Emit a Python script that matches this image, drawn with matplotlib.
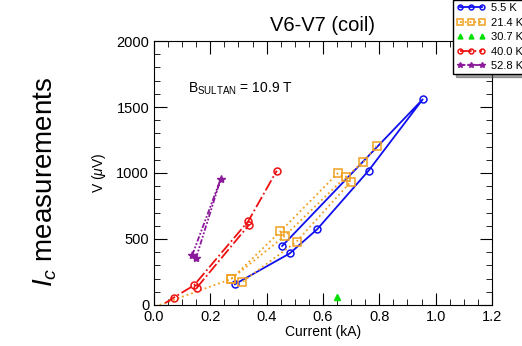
import matplotlib.pyplot as plt
from matplotlib.ticker import MultipleLocator

plt.rcParams['font.family'] = ['Liberation Sans', 'DejaVu Sans']
plt.rcParams['mathtext.fontset'] = 'custom'
plt.rcParams['mathtext.rm'] = 'Liberation Sans'
plt.rcParams['mathtext.it'] = 'Liberation Sans:italic'

# 5.5 K sweep
i_55 = [0.287, 0.482, 0.579, 0.762, 0.954, 0.455]
v_55 = [157, 391, 573, 1018, 1558, 447]

# 21.4 K sweeps
i_214a = [0.02, 0.274, 0.449, 0.652, 0.699, 0.506, 0.312]
v_214a = [0, 197, 558, 997, 934, 480, 172]
i_214b = [0.274, 0.464, 0.680, 0.743, 0.790]
v_214b = [197, 523, 970, 1081, 1205]

# 30.7 K
i_307 = [0.650]
v_307 = [61]

# 40.0 K sweeps
i_40a = [0.04, 0.070, 0.142, 0.335, 0.436]
v_40a = [15, 56, 149, 636, 1018]
i_40b = [0.152, 0.338]
v_40b = [131, 609]

# 52.8 K
i_528 = [0.136, 0.237, 0.149]
v_528 = [379, 955, 354]

blue = '#1010ee'
orange = '#f0a020'
green = '#00e000'
red = '#ee1111'
purple = '#8a1a9a'

fig = plt.figure(figsize=(5.22, 3.46), dpi=100)
ax = fig.add_axes([0.295, 0.1185, 0.6475, 0.763])

ax.plot(i_55, v_55, color=blue, marker='o', mfc='none', ms=5, mew=1.1, lw=1.3,
        label='5.5 K')
ax.plot(i_214a, v_214a, color=orange, marker='s', mfc='none', ms=5.5, mew=1.1,
        lw=1.3, ls=':', markevery=list(range(1, len(i_214a))), label='21.4 K')
ax.plot(i_214b, v_214b, color=orange, marker='s', mfc='none', ms=5.5, mew=1.1,
        lw=1.3, ls=':')
ax.plot(i_307, v_307, color=green, marker='^', ms=5, ls='none', label='30.7 K')
ax.plot(i_40a, v_40a, color=red, marker='o', mfc='none', ms=5, mew=1.1, lw=1.3,
        ls='-.', markevery=list(range(1, len(i_40a))), label='40.0 K')
ax.plot(i_40b, v_40b, color=red, marker='o', mfc='none', ms=5, mew=1.1, lw=1.3,
        ls='-.')
ax.plot(i_528, v_528, color=purple, marker='*', ms=6, lw=1.3,
        ls=(0, (3, 1, 1, 1, 1, 1)), label='52.8 K')

ax.set_xlim(0, 1.2)
ax.set_ylim(0, 2000)
ax.xaxis.set_major_locator(MultipleLocator(0.2))
ax.xaxis.set_minor_locator(MultipleLocator(0.05))
ax.yaxis.set_major_locator(MultipleLocator(500))
ax.yaxis.set_minor_locator(MultipleLocator(100))
ax.set_xticklabels([f'{t:.1f}' for t in ax.get_xticks()])
ax.tick_params(which='both', direction='in', top=True, right=True, labelsize=10.5)
ax.tick_params(which='major', length=9)
ax.tick_params(which='minor', length=4.5)

ax.set_xlabel('Current (kA)', fontsize=10, labelpad=1)
ax.set_ylabel(r'V ($\mu$V)', fontsize=10, labelpad=6)
ax.set_title('V6-V7 (coil)', fontsize=14.5, pad=7)
ax.text(0.12, 1640, r'B$_{\rm SULTAN}$ = 10.9 T', fontsize=10, va='center')

fig.text(0.086, 0.474, r'$I_c$ measurements', rotation=90, fontsize=20,
         ha='center', va='center')

ax.legend(loc='upper left', bbox_to_anchor=(453 / 522, 1.0),
          bbox_transform=fig.transFigure, fontsize=8, numpoints=3,
          markerscale=0.7, handlelength=2.6, handletextpad=0.5,
          labelspacing=0.4, borderpad=0.3, borderaxespad=0, frameon=True,
          fancybox=False, shadow=True, edgecolor='black', framealpha=1)

fig.savefig('out.png', dpi=100)
